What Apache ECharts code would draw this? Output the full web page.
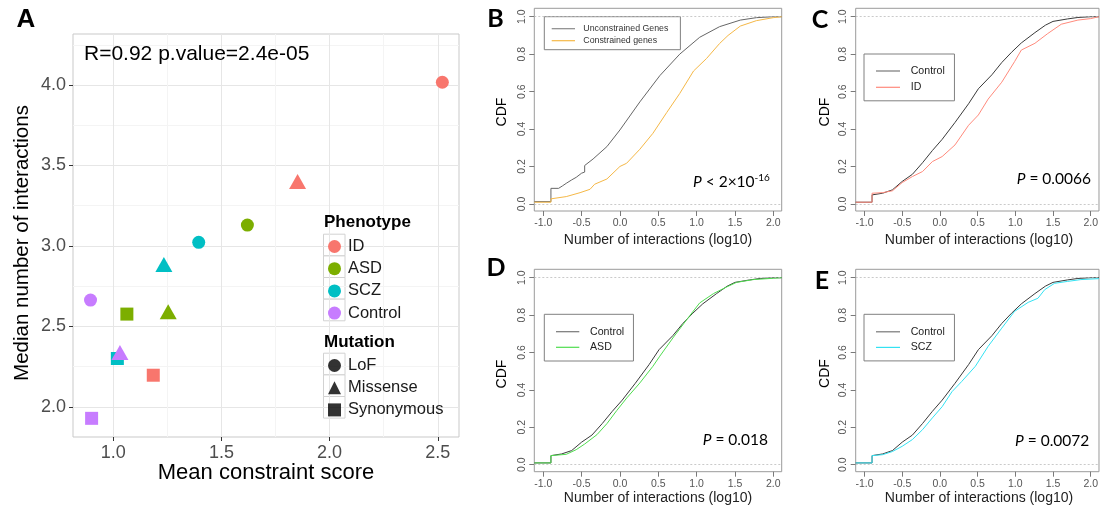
<!DOCTYPE html>
<html><head><meta charset="utf-8">
<script src="https://cdn.jsdelivr.net/npm/echarts@6/dist/echarts.min.js"></script>
<style>html,body{margin:0;padding:0;background:#fff}#c{width:1101px;height:511px}</style>
</head><body><div id="c"></div><script>
// ---------- Panel A data ----------
const phenotypes = ['ID', 'ASD', 'SCZ', 'Control'];
const mutations = ['LoF', 'Missense', 'Synonymous'];
// values ordered LoF, Missense, Synonymous
const idScore = [2.521, 1.852, 1.185];
const idMedian = [4.017, 3.400, 2.196];
const asdScore = [1.620, 1.254, 1.063];
const asdMedian = [3.129, 2.590, 2.576];
const sczScore = [1.395, 1.234, 1.019];
const sczMedian = [3.022, 2.885, 2.300];
const ctrlScore = [0.895, 1.031, 0.900];
const ctrlMedian = [2.663, 2.338, 1.928];
const scoreTicks = [1.0, 1.5, 2.0, 2.5];
const scoreMinor = [1.25, 1.75, 2.25];
const medianTicks = [2.0, 2.5, 3.0, 3.5, 4.0];
const medianMinor = [2.25, 2.75, 3.25, 3.75, 4.25];

// ---------- Panels B-E data (CDF) ----------
const cdfXTicks = [-1.0, -0.5, 0.0, 0.5, 1.0, 1.5, 2.0];
const cdfYTicks = [0.0, 0.2, 0.4, 0.6, 0.8, 1.0];
const refLevels = [0, 1];

const unconX = [-1.117, -0.9, -0.9, -0.8, -0.75, -0.7, -0.63, -0.57, -0.5, -0.46, -0.46, -0.35, -0.17, 0.0, 0.26, 0.52, 0.78, 1.04, 1.3, 1.57, 1.78, 2.0, 2.11];
const unconY = [0.012, 0.012, 0.083, 0.083, 0.096, 0.11, 0.128, 0.142, 0.164, 0.17, 0.205, 0.24, 0.306, 0.395, 0.545, 0.685, 0.80, 0.89, 0.947, 0.982, 0.995, 1.0, 1.0];
const conX = [-1.117, -0.9, -0.9, -0.7, -0.52, -0.39, -0.33, -0.17, 0.0, 0.087, 0.26, 0.43, 0.61, 0.78, 0.96, 1.13, 1.3, 1.41, 1.57, 1.78, 2.0, 2.11];
const conY = [0.009, 0.009, 0.027, 0.039, 0.06, 0.078, 0.105, 0.133, 0.20, 0.217, 0.292, 0.377, 0.488, 0.59, 0.71, 0.777, 0.857, 0.90, 0.95, 0.979, 0.995, 1.0];

const ctrlX = [-1.117, -0.9, -0.9, -0.76, -0.63, -0.5, -0.365, -0.23, -0.10, 0.03, 0.2, 0.38, 0.51, 0.69, 0.82, 0.95, 1.08, 1.26, 1.4, 1.5, 1.69, 1.83, 2.0, 2.11];
const ctrlY = [0.009, 0.009, 0.048, 0.057, 0.075, 0.12, 0.158, 0.22, 0.285, 0.345, 0.435, 0.535, 0.615, 0.69, 0.755, 0.81, 0.86, 0.915, 0.955, 0.975, 0.988, 0.996, 1.0, 1.0];
const idCdfX = [-1.117, -0.9, -0.9, -0.76, -0.63, -0.5, -0.365, -0.23, -0.10, 0.03, 0.2, 0.38, 0.51, 0.64, 0.82, 0.99, 1.08, 1.26, 1.43, 1.61, 1.83, 2.0, 2.11];
const idCdfY = [0.009, 0.009, 0.057, 0.06, 0.07, 0.114, 0.146, 0.173, 0.226, 0.253, 0.315, 0.42, 0.475, 0.56, 0.65, 0.76, 0.822, 0.858, 0.91, 0.96, 0.982, 0.99, 1.0];
const asdCdfX = [-1.117, -0.9, -0.9, -0.7, -0.57, -0.46, -0.3, -0.17, -0.04, 0.09, 0.26, 0.43, 0.52, 0.70, 0.87, 1.04, 1.22, 1.39, 1.52, 1.74, 2.0, 2.11];
const asdCdfY = [0.009, 0.009, 0.048, 0.055, 0.08, 0.11, 0.16, 0.219, 0.29, 0.357, 0.437, 0.526, 0.58, 0.683, 0.775, 0.865, 0.915, 0.95, 0.975, 0.99, 0.997, 1.0];
const sczCdfX = [-1.117, -0.9, -0.9, -0.76, -0.63, -0.5, -0.365, -0.23, -0.10, 0.03, 0.16, 0.29, 0.47, 0.64, 0.82, 0.99, 1.17, 1.30, 1.39, 1.52, 1.69, 1.87, 2.11];
const sczCdfY = [0.009, 0.009, 0.048, 0.053, 0.07, 0.098, 0.134, 0.187, 0.25, 0.31, 0.39, 0.445, 0.526, 0.633, 0.73, 0.82, 0.868, 0.89, 0.936, 0.97, 0.98, 0.99, 0.995];

// ---------- styling ----------
const SANS = '"Liberation Sans", Arial, sans-serif';
const CAL = 'Lato, "Open Sans", sans-serif';
const phenoColors = ['#F8766D', '#7CAE00', '#00BFC4', '#C77CFF'];
const mutSymbols = ['circle', 'triangle', 'rect'];
const mutSizes = [13, [17, 15], 13];

const chart = echarts.init(document.getElementById('c'), null, {renderer: 'canvas', width: 1101, height: 511});
const pairs = (xs, ys) => xs.map((x, i) => [x, ys[i]]);

const scores = [idScore, asdScore, sczScore, ctrlScore];
const medians = [idMedian, asdMedian, sczMedian, ctrlMedian];

const series = [];
phenotypes.forEach((p, pi) => {
  series.push({
    type: 'scatter', name: p, xAxisIndex: 0, yAxisIndex: 0, z: 3,
    itemStyle: {color: phenoColors[pi], opacity: 1},
    data: mutations.map((m, mi) => ({value: [scores[pi][mi], medians[pi][mi]], symbol: mutSymbols[mi], symbolSize: mutSizes[mi]}))
  });
});
mutations.forEach((m, mi) => {
  series.push({type: 'scatter', name: m, xAxisIndex: 0, yAxisIndex: 0, symbol: mutSymbols[mi], itemStyle: {color: '#000'}, data: []});
});

function cdfLine(name, xs, ys, color, axisIdx, withRef) {
  const s = {
    type: 'line', name: name, xAxisIndex: axisIdx, yAxisIndex: axisIdx,
    data: pairs(xs, ys), showSymbol: false, symbol: 'none', smooth: false,
    lineStyle: {color: color, width: 1}, itemStyle: {color: color}, silent: true, z: 3
  };
  if (withRef) {
    s.markLine = {
      silent: true, symbol: 'none', label: {show: false},
      lineStyle: {color: '#bdbdbd', type: [2, 2], width: 0.8},
      data: refLevels.map(v => ({yAxis: v}))
    };
  }
  return s;
}
const cUncon = '#666666', cCon = '#F5B847', cCtrl = '#3a3a3a', cID = '#FF8A7C', cASD = '#4FDD4F', cSCZ = '#33E2F2';
series.push(cdfLine('Unconstrained Genes', unconX, unconY, cUncon, 2, true));
series.push(cdfLine('Constrained genes', conX, conY, cCon, 2, false));
series.push(cdfLine('Control', ctrlX, ctrlY, cCtrl, 3, true));
series.push(cdfLine('ID', idCdfX, idCdfY, cID, 3, false));
series.push(cdfLine('Control', ctrlX, ctrlY, cCtrl, 4, true));
series.push(cdfLine('ASD', asdCdfX, asdCdfY, cASD, 4, false));
series.push(cdfLine('Control', ctrlX, ctrlY, cCtrl, 5, true));
series.push(cdfLine('SCZ', sczCdfX, sczCdfY, cSCZ, 5, false));

// ---------- grids ----------
const grids = [
  {left: 73, top: 34, width: 386, height: 403, show: true, borderColor: '#c9c9c9', borderWidth: 1, backgroundColor: '#fff'},
  {left: 534.3, top: 8.3, width: 247.4, height: 202.7, show: true, borderColor: '#9a9a9a', borderWidth: 1},
  {left: 855.7, top: 8.3, width: 247.4, height: 202.7, show: true, borderColor: '#9a9a9a', borderWidth: 1},
  {left: 534.3, top: 269.3, width: 247.4, height: 202.4, show: true, borderColor: '#9a9a9a', borderWidth: 1},
  {left: 855.7, top: 269.3, width: 247.4, height: 202.4, show: true, borderColor: '#9a9a9a', borderWidth: 1}
];

const aX = {
  type: 'value', gridIndex: 0, min: 0.814, max: 2.598,
  axisLine: {show: false, onZero: false},
  axisTick: {show: true, customValues: scoreTicks, length: 4, lineStyle: {color: '#333'}},
  axisLabel: {customValues: scoreTicks, formatter: v => v.toFixed(1), fontSize: 18, color: '#4d4d4d', margin: 7, fontFamily: SANS},
  splitLine: {show: true, lineStyle: {color: '#e6e6e6', width: 1}}
};
const aXMinor = {
  type: 'value', gridIndex: 0, min: 0.814, max: 2.598, position: 'top',
  axisLine: {show: false, onZero: false}, axisLabel: {show: false},
  axisTick: {show: false, customValues: scoreMinor},
  splitLine: {show: true, lineStyle: {color: '#f4f4f4', width: 1}}
};
const aY = {
  type: 'value', gridIndex: 0, min: 1.812, max: 4.317,
  axisLine: {show: false, onZero: false},
  axisTick: {show: true, customValues: medianTicks, length: 4, lineStyle: {color: '#333'}},
  axisLabel: {customValues: medianTicks, formatter: v => v.toFixed(1), fontSize: 18, color: '#4d4d4d', margin: 7, fontFamily: SANS},
  splitLine: {show: true, lineStyle: {color: '#e6e6e6', width: 1}}
};
const aYMinor = {
  type: 'value', gridIndex: 0, min: 1.812, max: 4.317, position: 'right',
  axisLine: {show: false, onZero: false}, axisLabel: {show: false},
  axisTick: {show: false, customValues: medianMinor},
  splitLine: {show: true, lineStyle: {color: '#f4f4f4', width: 1}}
};
function cdfX(gi) {
  return {
    type: 'value', gridIndex: gi, min: -1.117, max: 2.11,
    axisLine: {show: false, onZero: false},
    axisTick: {show: true, customValues: cdfXTicks, length: 5, lineStyle: {color: '#7a7a7a'}},
    axisLabel: {customValues: cdfXTicks, formatter: v => v.toFixed(1), fontSize: 10.5, color: '#555', margin: 7, fontFamily: SANS},
    splitLine: {show: false}
  };
}
function cdfY(gi) {
  return {
    type: 'value', gridIndex: gi, min: -0.038, max: 1.045,
    axisLine: {show: false, onZero: false},
    axisTick: {show: true, customValues: cdfYTicks, length: 5, lineStyle: {color: '#7a7a7a'}},
    axisLabel: {customValues: cdfYTicks, formatter: v => v.toFixed(1), fontSize: 10.5, color: '#555', margin: 7, rotate: 90, fontFamily: SANS},
    splitLine: {show: false}
  };
}

// ---------- legends ----------
const legends = [
  {
    orient: 'vertical', left: 328, top: 238, padding: 0, itemWidth: 13, itemHeight: 13, itemGap: 5.2, selectedMode: false,
    data: phenotypes.map((p, pi) => ({name: p, icon: 'circle', itemStyle: {color: phenoColors[pi]}})),
    textStyle: {fontSize: 16.5, lineHeight: 16.5, color: '#1a1a1a', fontFamily: SANS, padding: [0, 0, 0, 2]}
  },
  {
    orient: 'vertical', left: 328, top: 357, padding: 0, itemWidth: 13, itemHeight: 13, itemGap: 5.2, selectedMode: false,
    data: mutations.map((m, mi) => ({name: m, icon: mutSymbols[mi], itemStyle: {color: '#000'}})),
    textStyle: {fontSize: 16.5, lineHeight: 16.5, color: '#1a1a1a', fontFamily: SANS, padding: [0, 0, 0, 2]}
  },
  {
    orient: 'vertical', left: 544.3, top: 16.7, padding: [6, 12, 3, 7.4], itemGap: 0, itemWidth: 23.3, itemHeight: 1.2,
    borderColor: '#808080', borderWidth: 1, selectedMode: false,
    data: [{name: 'Unconstrained Genes', icon: 'rect', itemStyle: {color: '#8a8a8a'}}, {name: 'Constrained genes', icon: 'rect', itemStyle: {color: cCon}}],
    textStyle: {fontSize: 8.8, lineHeight: 12, color: '#333', fontFamily: SANS, padding: [0, 0, 0, 3.3]}
  },
  {
    orient: 'vertical', left: 864, top: 54, padding: [10.5, 9.6, 7, 12], itemGap: 3.3, itemWidth: 24, itemHeight: 1.2,
    borderColor: '#808080', borderWidth: 1, selectedMode: false,
    data: [{name: 'Control', icon: 'rect', itemStyle: {color: '#777'}}, {name: 'ID', icon: 'rect', itemStyle: {color: cID}}],
    textStyle: {fontSize: 10.6, lineHeight: 13, color: '#222', fontFamily: SANS, padding: [0, 0, 0, 5.7]}
  },
  {
    orient: 'vertical', left: 544.3, top: 314.3, padding: [10.9, 9.3, 7.2, 11.7], itemGap: 2.6, itemWidth: 23.3, itemHeight: 1.2,
    borderColor: '#808080', borderWidth: 1, selectedMode: false,
    data: [{name: 'Control', icon: 'rect', itemStyle: {color: '#777'}}, {name: 'ASD', icon: 'rect', itemStyle: {color: cASD}}],
    textStyle: {fontSize: 10.6, lineHeight: 13, color: '#222', fontFamily: SANS, padding: [0, 0, 0, 5.7]}
  },
  {
    orient: 'vertical', left: 864, top: 314.3, padding: [11, 9.6, 7, 12], itemGap: 2.6, itemWidth: 24, itemHeight: 1.2,
    borderColor: '#808080', borderWidth: 1, selectedMode: false,
    data: [{name: 'Control', icon: 'rect', itemStyle: {color: '#777'}}, {name: 'SCZ', icon: 'rect', itemStyle: {color: cSCZ}}],
    textStyle: {fontSize: 10.6, lineHeight: 13, color: '#222', fontFamily: SANS, padding: [0, 0, 0, 5.7]}
  }
];

// ---------- text / decorations ----------
function txt(x, y, text, font, opts) {
  return Object.assign({type: 'text', x: x, y: y, silent: true, z: 10,
    style: Object.assign({text: text, font: font, fill: '#000', align: 'center', verticalAlign: 'middle'}, (opts && opts.style) || {})},
    (opts && opts.el) || {});
}
const keyCenters = [245, 266.7, 288.3, 310, 364, 385.7, 407.3];
const graphics = [
  txt(26, 20, 'A', 'bold 26px ' + SANS),
  txt(84, 54.5, 'R=0.92 p.value=2.4e-05', '21px ' + SANS, {style: {align: 'left'}}),
  txt(22, 243, 'Median number of interactions', '20.5px ' + SANS, {el: {rotation: Math.PI / 2}}),
  txt(266, 473, 'Mean constraint score', '22px ' + SANS),
  txt(324, 222, 'Phenotype', 'bold 17px ' + SANS, {style: {align: 'left'}}),
  txt(324, 342, 'Mutation', 'bold 17px ' + SANS, {style: {align: 'left'}}),
  txt(495.5, 19, 'B', 'bold 25px ' + CAL),
  txt(820, 20, 'C', 'bold 25px ' + CAL),
  txt(496, 267.5, 'D', 'bold 25px ' + CAL),
  txt(822, 281, 'E', 'bold 25px ' + CAL),
  txt(501.7, 112, 'CDF', '14px ' + SANS, {el: {rotation: Math.PI / 2}}),
  txt(825, 112, 'CDF', '14px ' + SANS, {el: {rotation: Math.PI / 2}}),
  txt(501.7, 374, 'CDF', '14px ' + SANS, {el: {rotation: Math.PI / 2}}),
  txt(825, 373.5, 'CDF', '14px ' + SANS, {el: {rotation: Math.PI / 2}}),
  txt(658, 240, 'Number of interactions (log10)', '14px ' + SANS, {style: {fill: '#222'}}),
  txt(979, 240, 'Number of interactions (log10)', '14px ' + SANS, {style: {fill: '#222'}}),
  txt(658, 498, 'Number of interactions (log10)', '14px ' + SANS, {style: {fill: '#222'}}),
  txt(979, 498, 'Number of interactions (log10)', '14px ' + SANS, {style: {fill: '#222'}})
];
keyCenters.forEach(c => {
  graphics.push({type: 'rect', silent: true, z: 0, shape: {x: 323.5, y: c - 10.8, width: 21.5, height: 21.6},
    style: {fill: '#fff', stroke: '#d2d2d2', lineWidth: 1}});
});
function pText(x, y, value, sup) {
  const rich = {i: {fontStyle: 'italic', fontSize: 15.5, fontFamily: CAL, fill: '#000'},
                n: {fontSize: 15.5, fontFamily: CAL, fill: '#000'},
                s: {fontSize: 10, fontFamily: CAL, fill: '#000', verticalAlign: 'top', padding: [0, 0, 8, 0]}};
  return {type: 'text', x: x, y: y, silent: true, z: 10,
    style: {text: '{i|P}{n|' + value + '}' + (sup ? '{s|' + sup + '}' : ''), rich: rich, align: 'left', verticalAlign: 'middle'}};
}
graphics.push(pText(693, 181.7, ' < 2×10', '-16'));
graphics.push(pText(1016.7, 179.3, ' = 0.0066'));
graphics.push(pText(702.7, 440, ' = 0.018'));
graphics.push(pText(1015, 440.7, ' = 0.0072'));

chart.setOption({
  animation: false,
  backgroundColor: '#fff',
  grid: grids,
  xAxis: [aX, aXMinor, cdfX(1), cdfX(2), cdfX(3), cdfX(4)],
  yAxis: [aY, aYMinor, cdfY(1), cdfY(2), cdfY(3), cdfY(4)],
  legend: legends,
  graphic: graphics,
  series: series
});
</script></body></html>
